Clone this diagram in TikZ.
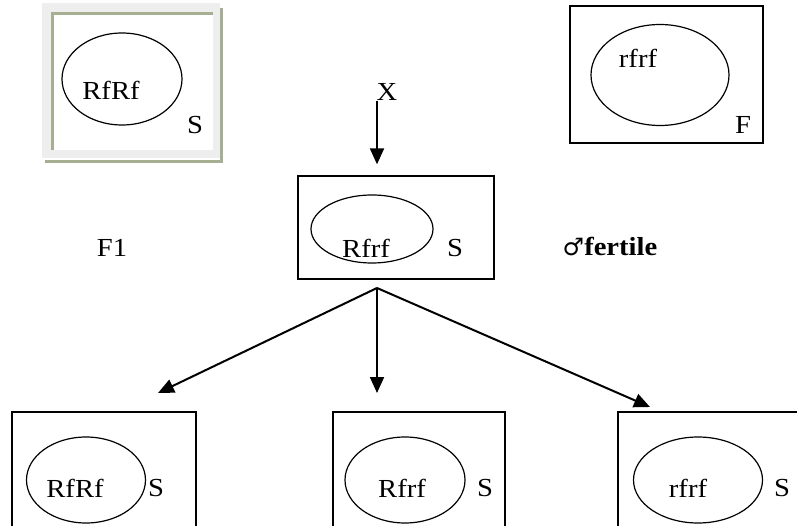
\documentclass[tikz,border=0pt]{standalone}
\usepackage{fontspec}
\setmainfont{Liberation Serif}[FakeStretch=1.1]
\newfontfamily\symfont{DejaVu Sans}
\usepackage{xcolor}
\usetikzlibrary{shapes.geometric,arrows.meta,positioning}
\definecolor{framegreen}{RGB}{166,175,145}
\definecolor{framegrey}{RGB}{238,238,238}
\tikzset{>={Triangle[length=16pt,width=14pt]}}
\tikzset{box/.style={draw,line width=1.3pt,inner sep=0pt},
  geno/.style={draw,ellipse,line width=1.2pt,inner sep=0pt},
  txt/.style={font=\fontsize{26}{30}\selectfont,inner sep=0pt},
  arr/.style={->,line width=2pt}}

\begin{document}
\begin{tikzpicture}[x=1pt,y=-1pt]
      \useasboundingbox (0,0) rectangle (797,526);
      \clip (0,0) rectangle (797,526);
      % parents
      \node[fill=framegrey,minimum width=178pt,minimum height=155pt,inner sep=0pt] (p1) at (131,80.5) {};
      \fill[white] (53,15) rectangle (213,150);
      \draw[framegreen,line width=3pt] (52,150) -- (52,13.5) -- (213,13.5);
      \draw[framegreen,line width=3pt] (45,161.5) -- (221.5,161.5) -- (221.5,8);
      \node[geno,minimum width=120pt,minimum height=92pt] (e1) at (122,79) {};
      \node[txt] (g1) at (111,90) {RfRf};
      \node[txt] (s1) at (195,125) {S};
      \node[box,minimum width=193pt,minimum height=137pt] (p2) at (666.5,74.5) {};
      \node[geno,minimum width=138pt,minimum height=101pt] (e2) at (660,75) {};
      \node[txt] (g2) at (638,58) {rfrf};
      \node[txt] (s2) at (743,125) {F};
      \node[txt] (X) at (387,92) {X};
      % F1
      \node[box,minimum width=196pt,minimum height=103pt] (f1) at (396,227.5) {};
      \node[geno,minimum width=122pt,minimum height=68pt] (ef) at (372,229) {};
      \node[txt] (gf) at (366,248) {Rfrf};
      \node[txt] (sf) at (455,248) {S};
      \node[txt] (gen) at (112,248) {F1};
      \node[txt] (fert) at (610,247) {{\symfont\fontsize{24}{28}\selectfont ♂}\textbf{fertile}};
      \coordinate (top) at (377,288);
      \draw[arr] (X.south -| top) -- ([yshift=11pt]f1.north -| top);
      % F2
      \node[box,minimum width=184pt,minimum height=150pt] (b1) at (104,487) {};
      \node[box,minimum width=172pt,minimum height=150pt] (b2) at (419,487) {};
      \node[box,minimum width=200pt,minimum height=150pt] (b3) at (718,487) {};
      \node[geno,minimum width=119pt,minimum height=86pt] (c1) at (86,480) {};
      \node[geno,minimum width=120pt,minimum height=86pt] (c2) at (405,480) {};
      \node[geno,minimum width=129pt,minimum height=86pt] (c3) at (698,480) {};
      \node[txt] (h1) at (75,488) {RfRf};
      \node[txt] (t1) at (156,488) {S};
      \node[txt] (h2) at (402,488) {Rfrf};
      \node[txt] (t2) at (485,488) {S};
      \node[txt] (h3) at (688,488) {rfrf};
      \node[txt] (t3) at (782,488) {S};
      \coordinate (a1) at (158,393);
      \coordinate (a2) at (377,393);
      \coordinate (a3) at (650,407);
      \draw[arr] (top) -- (a1);
      \draw[arr] (top) -- (a2);
      \draw[arr] (top) -- (a3);
    \end{tikzpicture}
\end{document}
